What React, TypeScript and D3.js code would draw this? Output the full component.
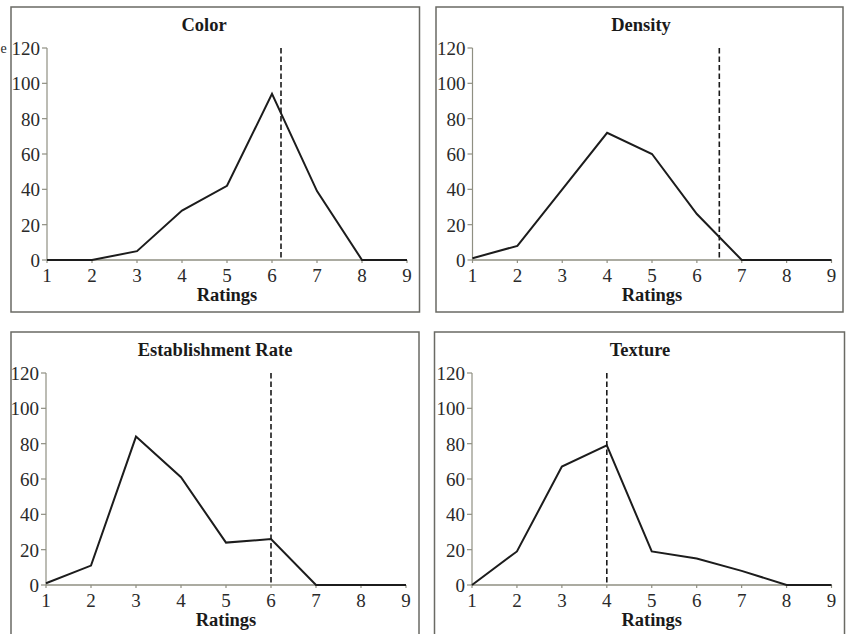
import React from "react";
import * as d3 from "d3";

const ratings = [1, 2, 3, 4, 5, 6, 7, 8, 9];
const yTicks = [0, 20, 40, 60, 80, 100, 120];
const panelTitles = ["Color", "Density", "Establishment Rate", "Texture"];
const colorValues = [0, 0, 5, 28, 42, 94, 39, 0, 0];
const densityValues = [1, 8, 40, 72, 60, 26, 0, 0, 0];
const establishmentValues = [1, 11, 84, 61, 24, 26, 0, 0, 0];
const textureValues = [0, 19, 67, 79, 19, 15, 8, 0, 0];
const referenceLines = [6.2, 6.5, 6, 4];
const xAxisLabel = "Ratings";

const seriesList = [colorValues, densityValues, establishmentValues, textureValues];

const layouts = [
  { bx: 11, by: 7, bw: 408.5, bh: 305, x0: 47, x1: 407, yTop: 48, yBot: 260, tx: 204 },
  { bx: 436, by: 7, bw: 407, bh: 305, x0: 472.5, x1: 831.5, yTop: 48, yBot: 260, tx: 641 },
  { bx: 11, by: 332, bw: 408, bh: 320, x0: 46, x1: 406, yTop: 373, yBot: 585, tx: 215 },
  { bx: 434.5, by: 332, bw: 410, bh: 320, x0: 472, x1: 831.5, yTop: 373, yBot: 585, tx: 640 },
];

const FONT = "'Liberation Serif', 'DejaVu Serif', serif";
const AXIS = "#8f8f82";

function Panel({ i }: { i: number }) {
  const L = layouts[i];
  const values = seriesList[i];
  const x = d3.scaleLinear().domain([1, 9]).range([L.x0, L.x1]);
  const y = d3.scaleLinear().domain([0, 120]).range([L.yBot, L.yTop]);
  const line = d3
    .line<number>()
    .x((_, k) => x(ratings[k]))
    .y((v) => y(v));
  const rx = x(referenceLines[i]);
  return (
    <g>
      <rect x={L.bx} y={L.by} width={L.bw} height={L.bh} fill="none" stroke="#6a6a64" strokeWidth={1.5} />
      <text x={L.tx} y={L.by + 24} textAnchor="middle" fontFamily={FONT} fontWeight="bold" fontSize={18.5} fill="#1a1a1a">
        {panelTitles[i]}
      </text>
      {/* y axis */}
      <line x1={x(1)} x2={x(1)} y1={y(120)} y2={y(0)} stroke={AXIS} strokeWidth={1.2} />
      {yTicks.map((t) => (
        <g key={t}>
          <line x1={x(1) - 5} x2={x(1)} y1={y(t)} y2={y(t)} stroke={AXIS} strokeWidth={1.2} />
          <text x={x(1) - 7} y={y(t)} dy="0.36em" textAnchor="end" fontFamily={FONT} fontSize={19} fill="#2a2a2a">
            {t}
          </text>
        </g>
      ))}
      {/* x axis */}
      <line x1={x(1)} x2={x(9)} y1={y(0)} y2={y(0)} stroke={AXIS} strokeWidth={1.4} />
      {ratings.map((r) => (
        <g key={r}>
          <line x1={x(r)} x2={x(r)} y1={y(0)} y2={y(0) + 3} stroke={AXIS} strokeWidth={1.2} />
          <text x={x(r)} y={y(0) + 22} textAnchor="middle" fontFamily={FONT} fontSize={19} fill="#2a2a2a">
            {r}
          </text>
        </g>
      ))}
      <text x={(L.x0 + L.x1) / 2} y={y(0) + 41} textAnchor="middle" fontFamily={FONT} fontWeight="bold" fontSize={18.5} fill="#1a1a1a">
        {xAxisLabel}
      </text>
      {/* reference line */}
      <line x1={rx} x2={rx} y1={y(120)} y2={y(0)} stroke="#1a1a1a" strokeWidth={1.6} strokeDasharray="5.5,3" />
      {/* data line */}
      <path d={line(values) || ""} fill="none" stroke="#1c1c1c" strokeWidth={2} strokeLinejoin="miter" />
    </g>
  );
}

export default function App() {
  return (
    <svg
      width={850}
      height={634}
      style={{ position: "absolute", left: 0, top: 0, background: "#ffffff" }}
    >
      <rect x={0} y={0} width={850} height={634} fill="#ffffff" />
      <text x={0.5} y={53} fontFamily={FONT} fontSize={14} fill="#2a2a2a">e</text>
      {[0, 1, 2, 3].map((i) => (
        <Panel key={i} i={i} />
      ))}
    </svg>
  );
}
